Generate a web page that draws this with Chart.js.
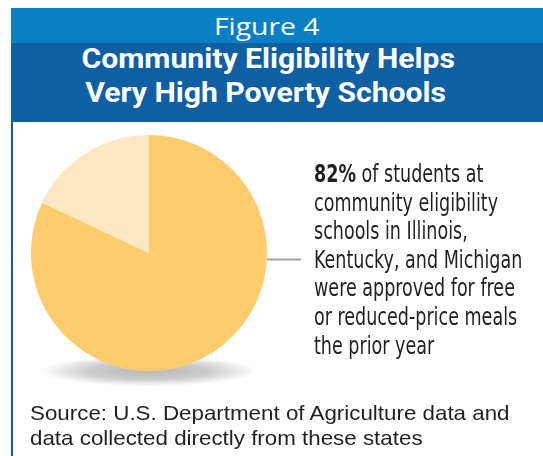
<!DOCTYPE html>
<html>
<head>
<meta charset="utf-8">
<title>Figure 4</title>
<script src="https://cdn.jsdelivr.net/npm/chart.js@4.4.1/dist/chart.umd.min.js"></script>
<style>
  body { margin: 0; width: 543px; height: 456px; overflow: hidden; position: relative; background: #fff; }
  #pie { position: absolute; left: 0; top: 0; }
  .band { position: absolute; left: 11px; right: 0; }
  #figBand { top: 8px; height: 35px; background: #0a80c4; }
  #titleBand { top: 43px; height: 79px; background: #0f5fa3; }
  #edge { position: absolute; left: 11px; top: 122px; width: 2px; bottom: 0; background: #0f5fa3; }
  .txt { position: absolute; white-space: nowrap; line-height: 1; display: inline-block; }
  .fig { font-family: "Open Sans", sans-serif; font-size: 24px; color: #fff; }
  .ttl { font-family: Roboto, sans-serif; font-weight: 700; font-size: 27px; color: #fff; }
  .note { font-family: "Liberation Sans Narrow", "DejaVu Sans Condensed", sans-serif; font-size: 24px; color: #231f20; }
  .src { font-family: "Liberation Sans", sans-serif; font-size: 21px; color: #231f20; }
</style>
</head>
<body>
<canvas id="pie" width="543" height="456"></canvas>
<div class="band" id="figBand"></div>
<div class="band" id="titleBand"></div>
<div id="edge"></div>
<script>
// pie data
const categories = ['Approved for free or reduced-price meals', 'Other students'];
const shares = [82, 18];
const sliceColors = ['#fdcc6c', '#fee8c3'];

// text
const figureLabel = 'Figure 4';
const titleLines = ['Community Eligibility Helps', 'Very High Poverty Schools'];
const noteLead = '82%';
const noteLines = [
  ' of students at',
  'community eligibility',
  'schools in Illinois,',
  'Kentucky, and Michigan',
  'were approved for free',
  'or reduced-price meals',
  'the prior year'
];
const sourceLines = [
  'Source: U.S. Department of Agriculture data and',
  'data collected directly from these states'
];

// puts a text line so its baseline sits at y, squeezed/stretched by sx
function addLine(cls, html) {
  const el = document.createElement('div');
  el.className = 'txt ' + cls;
  el.innerHTML = html;
  document.body.appendChild(el);
  return el;
}
function baselineOf(el) {
  const probe = document.createElement('span');
  probe.style.cssText = 'display:inline-block;width:0;height:0;vertical-align:baseline';
  el.appendChild(probe);
  const b = probe.offsetTop;
  probe.remove();
  return b;
}
function place(el, x, y, sx, align) {
  const w = el.offsetWidth;
  el.style.top = (y - baselineOf(el)) + 'px';
  if (align === 'center') {
    el.style.left = (x - w / 2) + 'px';
    el.style.transformOrigin = '50% 0';
  } else {
    el.style.left = x + 'px';
    el.style.transformOrigin = '0 0';
  }
  el.style.transform = 'scaleX(' + sx + ')';
}

// header
const fig = addLine('fig', figureLabel);
place(fig, 266, 35, 105 / fig.offsetWidth, 'center');
const t1 = addLine('ttl', titleLines[0]);
const t2 = addLine('ttl', titleLines[1]);
const tScale = 373 / t1.offsetWidth;
place(t1, 268, 68, tScale, 'center');
place(t2, 265, 102, tScale, 'center');

// note beside the pie
const noteEls = noteLines.map((s, i) => addLine('note', i === 0 ? '<b>' + noteLead + '</b>' + s : s));
const nScale = 208 / noteEls[3].offsetWidth;
noteEls.forEach((el, i) => place(el, 314, 182 + i * 28.6, nScale, 'left'));

// source
const srcEls = sourceLines.map(s => addLine('src', s));
const sScale = 480 / srcEls[0].offsetWidth;
srcEls.forEach((el, i) => place(el, 30, 420 + i * 25, sScale, 'left'));

// soft floor shadow under the pie and the leader line to the note
const pieDecor = {
  id: 'pieDecor',
  beforeDatasetsDraw(chart) {
    const arc = chart.getDatasetMeta(0).data[0];
    const ctx = chart.ctx;
    const r = arc.outerRadius;
    ctx.save();
    ctx.translate(arc.x, arc.y + r * 1.0);
    ctx.scale(1, 0.14);
    const g = ctx.createRadialGradient(0, 0, 0, 0, 0, r * 0.92);
    g.addColorStop(0, 'rgba(0,0,0,0.28)');
    g.addColorStop(0.55, 'rgba(0,0,0,0.2)');
    g.addColorStop(1, 'rgba(0,0,0,0)');
    ctx.fillStyle = g;
    ctx.beginPath();
    ctx.arc(0, 0, r * 0.92, 0, Math.PI * 2);
    ctx.fill();
    ctx.restore();
  },
  afterDatasetsDraw(chart) {
    const arc = chart.getDatasetMeta(0).data[0];
    const ctx = chart.ctx;
    const y = Math.round(arc.y + 6) + 0.5;
    ctx.save();
    ctx.strokeStyle = '#a3a3a3';
    ctx.lineWidth = 2;
    ctx.beginPath();
    ctx.moveTo(arc.x + arc.outerRadius, y);
    ctx.lineTo(arc.x + arc.outerRadius + 34, y);
    ctx.stroke();
    ctx.restore();
  }
};

new Chart(document.getElementById('pie'), {
  type: 'pie',
  data: {
    labels: categories,
    datasets: [{
      data: shares,
      backgroundColor: sliceColors,
      borderWidth: 0
    }]
  },
  options: {
    responsive: false,
    animation: false,
    layout: { padding: { left: 31, top: 135, right: 276, bottom: 85 } },
    plugins: {
      legend: { display: false },
      tooltip: { enabled: false }
    }
  },
  plugins: [pieDecor]
});
</script>
</body>
</html>
